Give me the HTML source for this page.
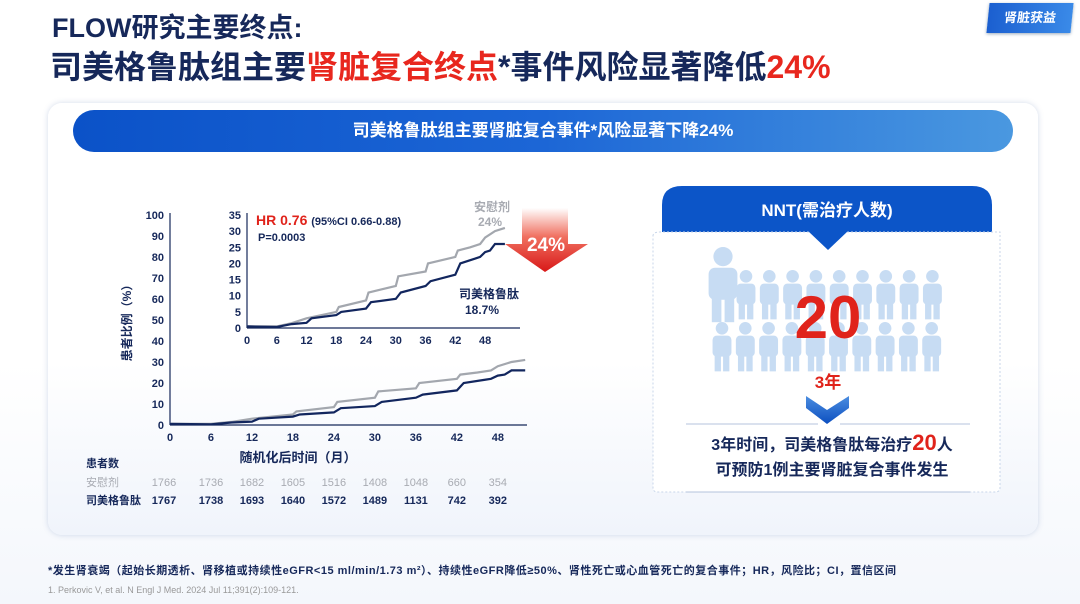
<!DOCTYPE html>
<html><head><meta charset="utf-8">
<style>
*{margin:0;padding:0;box-sizing:border-box}
body{width:1080px;height:604px;overflow:hidden;background:#fff;font-family:"Liberation Sans","Noto Sans CJK SC",sans-serif;position:relative}
.abs{position:absolute}
</style></head><body>
<div class="abs" style="left:0;top:0;width:1080px;height:604px;background:linear-gradient(#fff 0%,#fff 60%,#f4f7fc 100%)"></div>
<div class="abs" style="left:52px;top:12px;font-size:27px;font-weight:bold;color:#16285a;line-height:32px">FLOW研究主要终点:</div>
<div class="abs" style="left:50px;top:47px;font-size:32px;font-weight:bold;color:#16285a;line-height:40px;letter-spacing:0px">司美格鲁肽组主要<span style="color:#e8271e">肾脏复合终点</span>*事件风险显著降低<span style="color:#e8271e">24%</span></div>
<div class="abs" style="left:988px;top:3px;width:84px;height:30px;background:linear-gradient(90deg,#1b5fd0,#3a8ae8);color:#fff;font-size:13px;font-weight:bold;line-height:30px;text-align:center;transform:skewX(-6deg);box-shadow:0 1px 3px #9ab">肾脏获益</div>
<div class="abs" style="left:48px;top:103px;width:990px;height:432px;background:#fff;border-radius:14px;box-shadow:0 0 6px rgba(80,110,170,.25);background:linear-gradient(#fff 60%,#f0f4fb)"></div>
<div class="abs" style="left:73px;top:110px;width:940px;height:42px;border-radius:21px;background:linear-gradient(90deg,#0b52c8,#1c66d6 50%,#4a98e0);color:#fff;font-size:17px;font-weight:bold;text-align:center;line-height:42px">司美格鲁肽组主要肾脏复合事件*风险显著下降24%</div>

<svg class="abs" style="left:0;top:0" width="1080" height="604" id="s">
<defs>
<linearGradient id="ar" x1="0" y1="0" x2="0" y2="1"><stop offset="0" stop-color="#fff"/><stop offset="0.45" stop-color="#f07060"/><stop offset="1" stop-color="#d81818"/></linearGradient>
<linearGradient id="chev" x1="0" y1="0" x2="0" y2="1"><stop offset="0" stop-color="#4b8de0"/><stop offset="1" stop-color="#0c4fc0"/></linearGradient>
</defs>
<g font-family="Liberation Sans, Noto Sans CJK SC, sans-serif" font-weight="bold" font-size="11" fill="#16285a">
<line x1="170" y1="213" x2="170" y2="425" stroke="#16285a" stroke-width="1.2"/>
<line x1="170" y1="425" x2="527" y2="425" stroke="#16285a" stroke-width="1.2"/>
<g id="my" text-anchor="end"></g>
<g id="mx" text-anchor="middle"></g>
<text transform="translate(131,320) rotate(-90)" text-anchor="middle" font-size="12">患者比例（%）</text>
<text x="298" y="462" text-anchor="middle" font-size="13">随机化后时间（月）</text>
<line x1="247" y1="213" x2="247" y2="328" stroke="#16285a" stroke-width="1.2"/>
<line x1="247" y1="328" x2="520" y2="328" stroke="#16285a" stroke-width="1.2"/>
<g id="iy" text-anchor="end"></g>
<g id="ix" text-anchor="middle"></g>
<text x="256" y="225" font-size="14" fill="#e0231b">HR 0.76 <tspan font-size="11" fill="#16285a">(95%CI 0.66-0.88)</tspan></text>
<text x="258" y="241" font-size="11">P=0.0003</text>
<text x="492" y="211" text-anchor="middle" font-size="12" fill="#a8abb2">安慰剂</text>
<text x="490" y="226" text-anchor="middle" font-size="12" fill="#a8abb2">24%</text>
<text x="489" y="298" text-anchor="middle" font-size="12">司美格鲁肽</text>
<text x="482" y="314" text-anchor="middle" font-size="12">18.7%</text>
<path d="M522,208 H568 V244 H588 L545,272 L505,244 H522 Z" fill="url(#ar)"/>
<text x="546" y="251" text-anchor="middle" font-size="19" fill="#fff">24%</text>
<path id="mp" fill="none" stroke="#a3a7ae" stroke-width="2.2"/>
<path id="ms" fill="none" stroke="#12265e" stroke-width="2.2"/>
<path id="ip" fill="none" stroke="#a3a7ae" stroke-width="2.2"/>
<path id="is" fill="none" stroke="#12265e" stroke-width="2.2"/>
<text x="86" y="467" font-size="11">患者数</text>
<text x="86" y="486" font-size="11" fill="#a8abb2" font-weight="normal">安慰剂</text>
<text x="86" y="504" font-size="11">司美格鲁肽</text>
<g id="t1" text-anchor="middle" fill="#a8abb2" font-weight="normal"></g>
<g id="t2" text-anchor="middle"></g>
</g>
<path d="M662,232 V205 Q662,186 682,186 H972 Q992,186 992,205 V232 Z" fill="#0c55c8"/>
<path d="M653,236 Q653,232 660,232 H1000 V488 Q1000,492 995,492 H658 Q653,492 653,488 Z" fill="#fff" stroke="#c8d6ea" stroke-dasharray="2,2"/>
<path d="M808,231 L828,250 L848,231 Z" fill="#0c55c8"/>
<text x="827" y="216" text-anchor="middle" font-family="Liberation Sans, Noto Sans CJK SC, sans-serif" font-weight="bold" font-size="17" fill="#fff">NNT(需治疗人数)</text>
<g id="ppl" fill="#c7dcf3"></g>
<text x="828" y="338" text-anchor="middle" font-family="Liberation Sans, Noto Sans CJK SC, sans-serif" font-weight="bold" font-size="60" fill="#e0231b">20</text>
<text x="828" y="388" text-anchor="middle" font-family="Liberation Sans, Noto Sans CJK SC, sans-serif" font-weight="bold" font-size="17" fill="#e0231b">3年</text>
<path d="M806,396 L827,410 L849,396 V408 L827,424 L806,408 Z" fill="url(#chev)"/>
<line x1="686" y1="424" x2="818" y2="424" stroke="#b5c3dc"/>
<line x1="840" y1="424" x2="970" y2="424" stroke="#b5c3dc"/>
<line x1="686" y1="492" x2="970" y2="492" stroke="#b5c3dc"/>
<g font-family="Liberation Sans, Noto Sans CJK SC, sans-serif" font-weight="bold" font-size="16" fill="#16285a" text-anchor="middle">
<text x="832" y="450">3年时间，司美格鲁肽每治疗<tspan fill="#e0231b" font-size="22">20</tspan>人</text>
<text x="832" y="475">可预防1例主要肾脏复合事件发生</text>
</g>
<g font-family="Liberation Sans, Noto Sans CJK SC, sans-serif">
<text x="48" y="574" font-size="11" font-weight="bold" fill="#16285a" textLength="848">*发生肾衰竭（起始长期透析、肾移植或持续性eGFR&lt;15 ml/min/1.73 m²）、持续性eGFR降低≥50%、肾性死亡或心血管死亡的复合事件；HR，风险比；CI，置信区间</text>
<text x="48" y="593" font-size="9" fill="#999">1.  Perkovic V, et al. N Engl J Med. 2024 Jul 11;391(2):109-121.</text>
</g>
</svg>
<script>
var NS="http://www.w3.org/2000/svg";
function T(g,x,y,s){var t=document.createElementNS(NS,"text");t.setAttribute("x",x);t.setAttribute("y",y);t.textContent=s;document.getElementById(g).appendChild(t);}
for(var v=0;v<=100;v+=10){var y=425-v*2.1;T("my",164,y+4,v);}
for(var m=0;m<=48;m+=6){T("mx",170+m*6.83,441,m);T("ix",247+m*4.96,344,m);}
for(var v=0;v<=35;v+=5){T("iy",241,328-v*3.23+4,v);}
var n1=[1766,1736,1682,1605,1516,1408,1048,660,354],n2=[1767,1738,1693,1640,1572,1489,1131,742,392];
for(var i=0;i<9;i++){var x=170+i*6*6.83+(i==0?-6:0);T("t1",x,486,n1[i]);T("t2",x,504,n2[i]);}
var P=[[0,0.5],[6,0.5],[9,1.5],[12,3],[18,5],[18.5,6.5],[24,8.5],[24.5,11],[30,13],[30.5,16],[36,17.5],[36.5,20],[42,22],[42.5,24],[45,25],[47,26],[48,28],[50,30],[52,31]];
var S=[[0,0.5],[6,0.3],[9,1.2],[12,1.6],[13,3],[18,4],[19,5],[24,6],[25,8],[30,9],[31,11],[36,13],[37,14.5],[42,16.5],[43,20],[46,21.5],[47,22],[48,23.5],[49,24],[50,26],[52,26]];
function path(id,d,x0,sx,y0,sy){var s="";d.forEach(function(p,i){s+=(i?"L":"M")+(x0+p[0]*sx).toFixed(1)+","+(y0-p[1]*sy).toFixed(1);});document.getElementById(id).setAttribute("d",s);}
path("mp",P,170,6.83,425,2.1);path("ms",S,170,6.83,425,2.1);
path("ip",P,247,4.96,328,3.23);path("is",S,247,4.96,328,3.23);
var g=document.getElementById("ppl");
function person(cx,ty,sc){var h='<circle cx="'+cx+'" cy="'+(ty+6*sc)+'" r="'+(6*sc)+'"/>'+
'<rect x="'+(cx-9*sc)+'" y="'+(ty+13*sc)+'" width="'+(18*sc)+'" height="'+(20*sc)+'" rx="'+(4*sc)+'"/>'+
'<rect x="'+(cx-7*sc)+'" y="'+(ty+31*sc)+'" width="'+(6*sc)+'" height="'+(16*sc)+'"/>'+
'<rect x="'+(cx+1*sc)+'" y="'+(ty+31*sc)+'" width="'+(6*sc)+'" height="'+(16*sc)+'"/>';g.innerHTML+=h;}
person(723,247,1.6);
for(var i=0;i<9;i++){person(746+i*23.3,270,1.05);}
for(var i=0;i<10;i++){person(722+i*23.3,322,1.05);}
</script>
</body></html>
